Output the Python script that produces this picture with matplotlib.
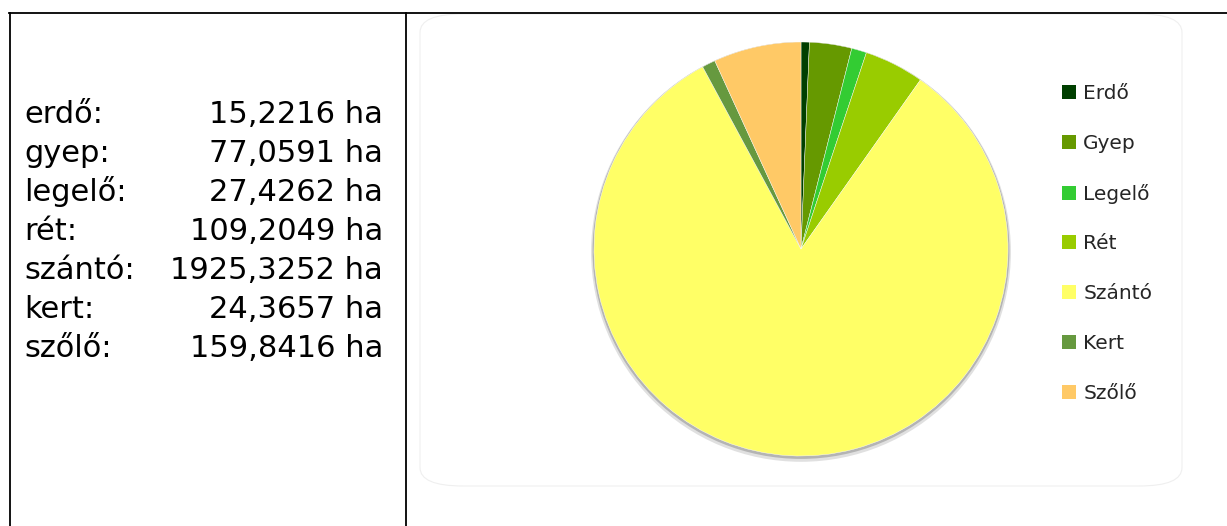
import matplotlib
matplotlib.use("Agg")
import matplotlib.pyplot as plt
from matplotlib.lines import Line2D
from matplotlib.patches import FancyBboxPatch, Patch, Circle

# ---- data ----
text_labels = ["erdő:", "gyep:", "legelő:", "rét:", "szántó:", "kert:", "szőlő:"]
text_values = ["15,2216 ha", "77,0591 ha", "27,4262 ha", "109,2049 ha",
               "1925,3252 ha", "24,3657 ha", "159,8416 ha"]
categories = ["Erdő", "Gyep", "Legelő", "Rét", "Szántó", "Kert", "Szőlő"]
values = [15.2216, 77.0591, 27.4262, 109.2049, 1925.3252, 24.3657, 159.8416]
colors = ["#003f00", "#669900", "#33cc33", "#99cc00", "#ffff66", "#66993f", "#ffc966"]

W, H = 1227, 526
fig = plt.figure(figsize=(W / 100, H / 100), dpi=100)
fig.patch.set_facecolor("white")

def fx(x):
    return x / W

def fy(y):
    return 1 - y / H

# table borders
lw = 1.3
fig.add_artist(Line2D([fx(9), fx(W)], [fy(13), fy(13)], color="black", lw=lw, transform=fig.transFigure))
fig.add_artist(Line2D([fx(10), fx(10)], [fy(13), fy(H)], color="black", lw=lw, transform=fig.transFigure))
fig.add_artist(Line2D([fx(406), fx(406)], [fy(13), fy(H)], color="black", lw=lw, transform=fig.transFigure))

# left text cell
for i, (lab, val) in enumerate(zip(text_labels, text_values)):
    yb = 123 + 39 * i
    fig.text(fx(24), fy(yb), lab, fontsize=22, family="DejaVu Sans", va="baseline", ha="left")
    fig.text(fx(383), fy(yb), val, fontsize=22, family="DejaVu Sans", va="baseline", ha="right")

# chart area rounded box
box = FancyBboxPatch((fx(420), fy(486)), fx(1182) - fx(420), fy(14) - fy(486),
                     boxstyle="round,pad=0,rounding_size=0.035",
                     transform=fig.transFigure, facecolor="white", edgecolor="#efefef",
                     lw=0.8, zorder=-5)
fig.add_artist(box)

# pie
cx, cy, r = 801, 249, 207
s = 1.03
ax = fig.add_axes([fx(cx - r * s), fy(cy + r * s), (2 * r * s) / W, (2 * r * s) / H])
ax.set_zorder(2)
ax.patch.set_alpha(0)
# soft shadow behind the pie
ax.add_patch(Circle((0, -0.014), 1.014, facecolor="#e0e0e0", edgecolor="none", zorder=0))
ax.add_patch(Circle((0, -0.007), 1.007, facecolor="#b4b4b4", edgecolor="none", zorder=0.5))
wedges, _ = ax.pie(values, colors=colors, startangle=90, counterclock=False,
                   wedgeprops=dict(linewidth=0.3, edgecolor="white"), radius=1)
for w in wedges:
    w.set_zorder(1)
ax.set_xlim(-s, s)
ax.set_ylim(-s, s)
ax.set_aspect("equal")
ax.axis("off")

# legend
handles = [Patch(facecolor=c, edgecolor="none") for c in colors]
leg = fig.legend(handles, categories, loc="upper left",
                 bbox_to_anchor=(fx(1062), fy(84)), frameon=False,
                 prop=dict(family="DejaVu Sans", size=14.5),
                 handlelength=0.7, handleheight=0.7, handletextpad=0.35,
                 labelspacing=1.53, borderaxespad=0, borderpad=0)
for t in leg.get_texts():
    t.set_color("#262626")

fig.savefig("out.png", dpi=100)
